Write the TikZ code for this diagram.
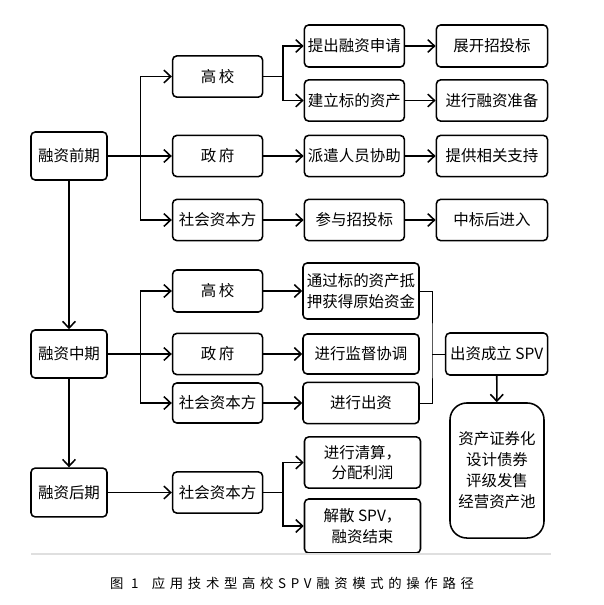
\documentclass[tikz,border=0pt]{standalone}
\usepackage{fontspec}
\setmainfont{Noto Sans CJK SC}
\newfontfamily\capfont[LetterSpace=35]{Noto Sans CJK SC}
\usetikzlibrary{arrows.meta}

\begin{document}
\begin{tikzpicture}[x=0.025cm, y=-0.025cm, >={Straight Barb[length=1.7mm,width=3.2mm]},
  box/.style={draw, rectangle, rounded corners=3pt, line width=1.1pt, align=center, inner sep=1pt, font=\fontsize{11}{14.5}\selectfont},
  link/.style={line width=1.1pt},
  thinlink/.style={line width=0.6pt}]
  \useasboundingbox (0,0) rectangle (604,605);

  % Phases
  \node[box, minimum width=1.9cm, minimum height=1.2cm] (qq) at (69,156) {融资前期};
  \node[box, minimum width=1.9cm, minimum height=1.2cm] (zq) at (69,354) {融资中期};
  \node[box, minimum width=1.9cm, minimum height=1.22cm] (hq) at (69,492.5) {融资后期};

  % Early phase
  \node[box, minimum width=2.25cm, minimum height=1.03cm] (gx1) at (217.6,76.5) {高\,校};
  \node[box, minimum width=2.25cm, minimum height=1.03cm] (zf1) at (217.6,156) {政\,府};
  \node[box, minimum width=2.25cm, minimum height=1.03cm] (sh1) at (217.6,220) {社会资本方};
  \node[box, minimum width=2.5cm, minimum height=1.05cm] (a1) at (354.4,46) {提出融资申请};
  \node[box, minimum width=2.5cm, minimum height=1.03cm] (a2) at (354.4,100.5) {建立标的资产};
  \node[box, minimum width=2.5cm, minimum height=1.03cm] (a3) at (354.4,156) {派遣人员协助};
  \node[box, minimum width=2.5cm, minimum height=1.03cm] (a4) at (354.4,220) {参与招投标};
  \node[box, minimum width=2.78cm, minimum height=1.05cm] (e1) at (492,46) {展开招投标};
  \node[box, minimum width=2.78cm, minimum height=1.03cm] (e2) at (492,100.5) {进行融资准备};
  \node[box, minimum width=2.78cm, minimum height=1.03cm] (e3) at (492,156) {提供相关支持};
  \node[box, minimum width=2.78cm, minimum height=1.03cm] (e4) at (492,220) {中标后进入};

  % Middle phase
  \node[box, minimum width=2.25cm, minimum height=1.05cm] (gx2) at (217.6,291) {高\,校};
  \node[box, minimum width=2.25cm, minimum height=1.03cm] (zf2) at (217.6,354) {政\,府};
  \node[box, minimum width=2.25cm, minimum height=1cm] (sh2) at (217.6,403) {社会资本方};
  \node[box, minimum width=2.9cm, minimum height=1.4cm] (b1) at (361,291) {通过标的资产抵\\押获得原始资金};
  \node[box, minimum width=2.9cm, minimum height=1cm] (b2) at (361,354) {进行监督协调};
  \node[box, minimum width=2.9cm, minimum height=1.03cm] (b3) at (361,403) {进行出资};
  \node[box, minimum width=2.55cm, minimum height=1.05cm] (spv) at (496.7,354) {出资成立 SPV};
  \node[box, rounded corners=12pt, minimum width=2.35cm, minimum height=3.375cm, font=\fontsize{11}{15}\selectfont] (pool) at (497,470.5) {资产证券化\\设计债券\\评级发售\\经营资产池};

  % Late phase
  \node[box, minimum width=2.25cm, minimum height=1.03cm] (sh3) at (217.6,492.5) {社会资本方};
  \node[box, minimum width=2.9cm, minimum height=1.28cm] (c1) at (362.5,462.5) {进行清算，\\分配利润};
  \node[box, minimum width=2.9cm, minimum height=1.35cm] (c2) at (362.5,526) {解散 SPV，\\融资结束};

  % Junctions
  \coordinate (j1) at (140.6,156);
  \coordinate (j2) at (283,76.5);
  \coordinate (j3) at (140.6,354);
  \coordinate (j4) at (283,492.5);
  \coordinate (k) at (432,354);

  % Edges
  \draw[link, ->] (qq) -- (zq);
  \draw[link, ->] (zq) -- (hq);

  \draw[link] (qq) -- (j1);
  \draw[link, ->] (j1) |- (gx1);
  \draw[link, ->] (j1) -- (zf1);
  \draw[link, ->] (j1) |- (sh1);
  \draw[link] (gx1) -- (j2);
  \draw[link, ->] (j2) |- (a1);
  \draw[link, ->] (j2) |- (a2);
  \draw[link, ->] (zf1) -- (a3);
  \draw[link, ->] (sh1) -- (a4);
  \draw[link, ->] (a1) -- (e1);
  \draw[link, ->] (a2) -- (e2);
  \draw[link, ->] (a3) -- (e3);
  \draw[link, ->] (a4) -- (e4);

  \draw[link] (zq) -- (j3);
  \draw[link, ->] (j3) |- (gx2);
  \draw[link, ->] (j3) -- (zf2);
  \draw[link, ->] (j3) |- (sh2);
  \draw[link, ->] (gx2) -- (b1);
  \draw[link, ->] (zf2) -- (b2);
  \draw[link, ->] (sh2) -- (b3);
  \draw[thinlink] (b1.east) -| (k) |- (b3.east);
  \draw[thinlink] (k) -- (spv);
  \draw[link, ->] (spv) -- (pool);

  \draw[link, ->] (hq) -- (sh3);
  \draw[link] (sh3) -- (j4);
  \draw[link, ->] (j4) |- (c1);
  \draw[link, ->] (j4) |- (c2);

  % Caption
  \draw[gray!25, line width=0.8pt] (31,554) -- (551,554);
  \node[font=\capfont\fontsize{9.5}{11}\selectfont] (cap) at (292,583) {图 1\quad 应用技术型高校SPV融资模式的操作路径};
\end{tikzpicture}
\end{document}
